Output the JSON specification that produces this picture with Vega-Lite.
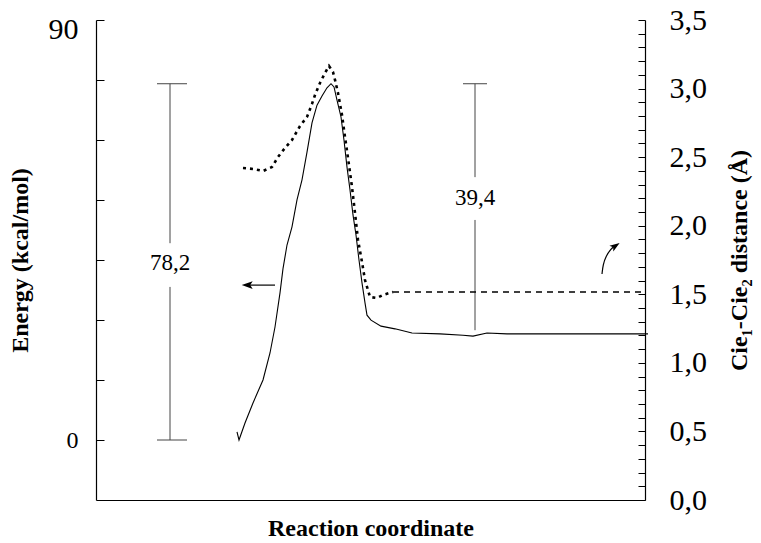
{
  "$schema": "https://vega.github.io/schema/vega-lite/v6.json",
  "width": 549,
  "height": 480,
  "autosize": {"type": "none"},
  "padding": {"left": 96, "top": 20, "right": 116, "bottom": 43},
  "background": "white",
  "config": {
    "view": {"stroke": null},
    "font": "Liberation Serif",
    "axis": {
      "grid": false,
      "domainColor": "#000",
      "domainWidth": 1.2,
      "tickColor": "#000",
      "tickWidth": 1,
      "labelColor": "#000",
      "titleColor": "#000",
      "labelFont": "Liberation Serif",
      "titleFont": "Liberation Serif"
    }
  },
  "datasets": {
    "energy": [
      {"rc": 141, "E": 1.76}, {"rc": 143, "E": 0}, {"rc": 149, "E": 3.73}, {"rc": 157, "E": 8.12},
      {"rc": 167, "E": 13.17}, {"rc": 174, "E": 19.1}, {"rc": 179, "E": 24.8}, {"rc": 184, "E": 32.3},
      {"rc": 187, "E": 37.6}, {"rc": 191, "E": 42.8}, {"rc": 196, "E": 46.8}, {"rc": 201, "E": 52.7},
      {"rc": 206, "E": 57.1}, {"rc": 211, "E": 63.2}, {"rc": 216, "E": 69.6}, {"rc": 221, "E": 73.5},
      {"rc": 226, "E": 75.5}, {"rc": 231, "E": 77.3}, {"rc": 235, "E": 78.2}, {"rc": 238, "E": 77.5},
      {"rc": 241, "E": 74.6}, {"rc": 245, "E": 70.9}, {"rc": 248, "E": 65.8}, {"rc": 251, "E": 59.9},
      {"rc": 254, "E": 54.9}, {"rc": 257, "E": 49.4}, {"rc": 260, "E": 45.0}, {"rc": 263, "E": 39.5},
      {"rc": 266, "E": 34.5}, {"rc": 269, "E": 30.1}, {"rc": 271, "E": 27.4}, {"rc": 275, "E": 26.3},
      {"rc": 285, "E": 25.0}, {"rc": 299, "E": 24.4}, {"rc": 316, "E": 23.5}, {"rc": 344, "E": 23.3},
      {"rc": 367, "E": 23.0}, {"rc": 377, "E": 22.8}, {"rc": 391, "E": 23.5}, {"rc": 411, "E": 23.3},
      {"rc": 552, "E": 23.3}
    ],
    "dist": [
      {"rc": 147, "d": 2.421}, {"rc": 157, "d": 2.414}, {"rc": 167, "d": 2.399}, {"rc": 176, "d": 2.428},
      {"rc": 182, "d": 2.501}, {"rc": 189, "d": 2.567}, {"rc": 196, "d": 2.625}, {"rc": 204, "d": 2.727},
      {"rc": 211, "d": 2.793}, {"rc": 216, "d": 2.888}, {"rc": 219, "d": 2.953}, {"rc": 224, "d": 3.041},
      {"rc": 229, "d": 3.114}, {"rc": 233, "d": 3.165}, {"rc": 237, "d": 3.121}, {"rc": 239, "d": 3.063},
      {"rc": 242, "d": 2.968}, {"rc": 246, "d": 2.807}, {"rc": 249, "d": 2.647}, {"rc": 252, "d": 2.494},
      {"rc": 256, "d": 2.282}, {"rc": 259, "d": 2.093}, {"rc": 262, "d": 1.896}, {"rc": 266, "d": 1.735},
      {"rc": 269, "d": 1.604}, {"rc": 274, "d": 1.48}, {"rc": 281, "d": 1.473}, {"rc": 287, "d": 1.495},
      {"rc": 297, "d": 1.517}, {"rc": 549, "d": 1.517}
    ],
    "bars": [
      {"rc": 74, "lo": 0, "hi": 33.6}, {"rc": 74, "lo": 43.2, "hi": 78.2},
      {"rc": 379, "lo": 24.1, "hi": 48.3}, {"rc": 379, "lo": 57.7, "hi": 78.2}
    ],
    "caps": [
      {"rc": 61, "b": 91, "E": 0}, {"rc": 61, "b": 91, "E": 78.2}, {"rc": 367, "b": 391, "E": 78.2}
    ],
    "labels": [
      {"rc": 74, "E": 38.8, "t": "78,2"}, {"rc": 379, "E": 53.1, "t": "39,4"}
    ],
    "arrowE": [{"rc": 152, "E": 34.0}, {"rc": 179, "E": 34.0}],
    "headE": [{"rc": 151.2, "E": 34.0}],
    "arrowD": [
      {"rc": 506, "d": 1.648}, {"rc": 507, "d": 1.714}, {"rc": 510, "d": 1.779},
      {"rc": 515, "d": 1.83}, {"rc": 518, "d": 1.85}
    ],
    "headD": [{"rc": 519.5, "d": 1.854}]
  },
  "layer": [
    {
      "layer": [
        {
          "data": {"name": "energy"},
          "mark": {"type": "line", "color": "#000", "strokeWidth": 1.1, "clip": false},
          "encoding": {
            "x": {
              "field": "rc", "type": "quantitative",
              "scale": {"domain": [0, 549], "nice": false, "zero": false},
              "axis": {
                "orient": "bottom", "ticks": false, "labels": false,
                "title": "Reaction coordinate", "titleFontSize": 24, "titleFontWeight": "bold",
                "titlePadding": 16
              }
            },
            "y": {
              "field": "E", "type": "quantitative",
              "scale": {"domain": [-13.17, 92.19], "nice": false, "zero": false},
              "axis": {
                "orient": "left",
                "values": [0, 13.17, 26.34, 39.51, 52.68, 65.85, 79.02, 92.19, 90],
                "labelExpr": "datum.value == 0 ? '0' : (datum.value == 90 ? '90' : '')",
                "tickSize": -8,
                "tickOpacity": {"condition": {"test": "datum.value == 90", "value": 0}, "value": 1},
                "labelFontSize": {"condition": {"test": "datum.value == 90", "value": 30}, "value": 24},
                "labelPadding": 26,
                "labelOverlap": false,
                "title": "Energy (kcal/mol)", "titleFontSize": 24, "titleFontWeight": "bold",
                "titlePadding": 16
              }
            }
          }
        },
        {
          "data": {"name": "bars"},
          "mark": {"type": "rule", "color": "#444", "strokeWidth": 1},
          "encoding": {
            "x": {"field": "rc", "type": "quantitative"},
            "y": {"field": "lo", "type": "quantitative"},
            "y2": {"field": "hi"}
          }
        },
        {
          "data": {"name": "caps"},
          "mark": {"type": "rule", "color": "#444", "strokeWidth": 1},
          "encoding": {
            "x": {"field": "rc", "type": "quantitative"},
            "x2": {"field": "b"},
            "y": {"field": "E", "type": "quantitative"}
          }
        },
        {
          "data": {"name": "labels"},
          "mark": {"type": "text", "font": "Liberation Serif", "fontSize": 23, "color": "#000", "baseline": "middle", "align": "center"},
          "encoding": {
            "x": {"field": "rc", "type": "quantitative"},
            "y": {"field": "E", "type": "quantitative"},
            "text": {"field": "t"}
          }
        },
        {
          "data": {"name": "arrowE"},
          "mark": {"type": "line", "color": "#000", "strokeWidth": 1.2},
          "encoding": {
            "x": {"field": "rc", "type": "quantitative"},
            "y": {"field": "E", "type": "quantitative"}
          }
        },
        {
          "data": {"name": "headE"},
          "mark": {"type": "point", "shape": "M 1 0 L -1 -0.7 L -0.55 0 L -1 0.7 Z", "filled": true, "color": "#000", "opacity": 1, "size": 121, "angle": 180},
          "encoding": {
            "x": {"field": "rc", "type": "quantitative"},
            "y": {"field": "E", "type": "quantitative"}
          }
        }
      ]
    },
    {
      "layer": [
        {
          "data": {"name": "dist"},
          "transform": [{"filter": "datum.rc <= 297"}],
          "mark": {"type": "line", "color": "#000", "strokeWidth": 2.6, "strokeDash": [3, 4]},
          "encoding": {
            "x": {"field": "rc", "type": "quantitative"},
            "y": {
              "field": "d", "type": "quantitative",
              "scale": {"domain": [0, 3.5], "nice": false, "zero": false},
              "axis": {
                "orient": "right",
                "values": [0, 0.1, 0.2, 0.3, 0.4, 0.5, 0.6, 0.7, 0.8, 0.9, 1.0, 1.1, 1.2, 1.3, 1.4, 1.5, 1.6, 1.7, 1.8, 1.9, 2.0, 2.1, 2.2, 2.3, 2.4, 2.5, 2.6, 2.7, 2.8, 2.9, 3.0, 3.1, 3.2, 3.3, 3.4, 3.5],
                "labelExpr": "round(datum.value * 10) % 5 == 0 ? replace(format(datum.value, '.1f'), '.', ',') : ''",
                "tickSize": -7,
                "labelFontSize": 30,
                "labelPadding": 31,
                "labelOverlap": false,
                "title": "Cie₁-Cie₂ distance (Å)", "titleFontSize": 24, "titleFontWeight": "bold",
                "titleAngle": 270,
                "titleBaseline": "top",
                "titlePadding": 21
              }
            }
          }
        },
        {
          "data": {"name": "dist"},
          "transform": [{"filter": "datum.rc >= 297"}],
          "mark": {"type": "line", "color": "#000", "strokeWidth": 1.6, "strokeDash": [6, 5]},
          "encoding": {
            "x": {"field": "rc", "type": "quantitative"},
            "y": {
              "field": "d", "type": "quantitative",
              "axis": {
                "orient": "right",
                "values": [0, 0.1, 0.2, 0.3, 0.4, 0.5, 0.6, 0.7, 0.8, 0.9, 1.0, 1.1, 1.2, 1.3, 1.4, 1.5, 1.6, 1.7, 1.8, 1.9, 2.0, 2.1, 2.2, 2.3, 2.4, 2.5, 2.6, 2.7, 2.8, 2.9, 3.0, 3.1, 3.2, 3.3, 3.4, 3.5],
                "labelExpr": "round(datum.value * 10) % 5 == 0 ? replace(format(datum.value, '.1f'), '.', ',') : ''",
                "tickSize": -7,
                "labelFontSize": 30,
                "labelPadding": 31,
                "labelOverlap": false,
                "title": "Cie₁-Cie₂ distance (Å)", "titleFontSize": 24, "titleFontWeight": "bold",
                "titleAngle": 270,
                "titleBaseline": "top",
                "titlePadding": 21
              }
            }
          }
        },
        {
          "data": {"name": "arrowD"},
          "mark": {"type": "line", "color": "#000", "strokeWidth": 1.2, "interpolate": "basis"},
          "encoding": {
            "x": {"field": "rc", "type": "quantitative"},
            "y": {
              "field": "d", "type": "quantitative",
              "axis": {
                "orient": "right",
                "values": [0, 0.1, 0.2, 0.3, 0.4, 0.5, 0.6, 0.7, 0.8, 0.9, 1.0, 1.1, 1.2, 1.3, 1.4, 1.5, 1.6, 1.7, 1.8, 1.9, 2.0, 2.1, 2.2, 2.3, 2.4, 2.5, 2.6, 2.7, 2.8, 2.9, 3.0, 3.1, 3.2, 3.3, 3.4, 3.5],
                "labelExpr": "round(datum.value * 10) % 5 == 0 ? replace(format(datum.value, '.1f'), '.', ',') : ''",
                "tickSize": -7,
                "labelFontSize": 30,
                "labelPadding": 31,
                "labelOverlap": false,
                "title": "Cie₁-Cie₂ distance (Å)", "titleFontSize": 24, "titleFontWeight": "bold",
                "titleAngle": 270,
                "titleBaseline": "top",
                "titlePadding": 21
              }
            }
          }
        },
        {
          "data": {"name": "headD"},
          "mark": {"type": "point", "shape": "M 1 0 L -1 -0.7 L -0.55 0 L -1 0.7 Z", "filled": true, "color": "#000", "opacity": 1, "size": 100, "angle": -34},
          "encoding": {
            "x": {"field": "rc", "type": "quantitative"},
            "y": {
              "field": "d", "type": "quantitative",
              "axis": {
                "orient": "right",
                "values": [0, 0.1, 0.2, 0.3, 0.4, 0.5, 0.6, 0.7, 0.8, 0.9, 1.0, 1.1, 1.2, 1.3, 1.4, 1.5, 1.6, 1.7, 1.8, 1.9, 2.0, 2.1, 2.2, 2.3, 2.4, 2.5, 2.6, 2.7, 2.8, 2.9, 3.0, 3.1, 3.2, 3.3, 3.4, 3.5],
                "labelExpr": "round(datum.value * 10) % 5 == 0 ? replace(format(datum.value, '.1f'), '.', ',') : ''",
                "tickSize": -7,
                "labelFontSize": 30,
                "labelPadding": 31,
                "labelOverlap": false,
                "title": "Cie₁-Cie₂ distance (Å)", "titleFontSize": 24, "titleFontWeight": "bold",
                "titleAngle": 270,
                "titleBaseline": "top",
                "titlePadding": 21
              }
            }
          }
        }
      ]
    }
  ],
  "resolve": {"scale": {"y": "independent"}}
}
